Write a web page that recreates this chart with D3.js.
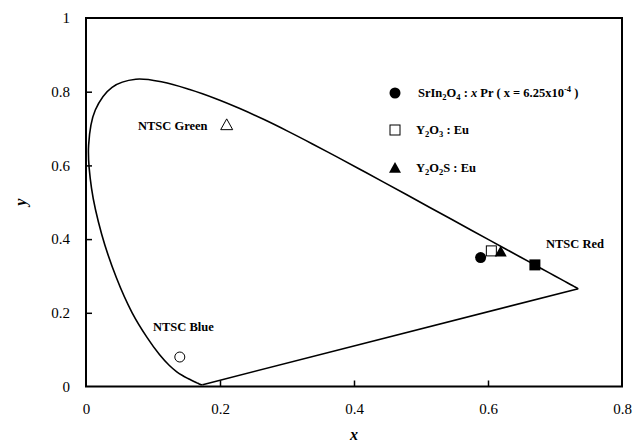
<!DOCTYPE html>
<html>
<head>
<meta charset="utf-8">
<script src="https://cdn.jsdelivr.net/npm/d3@7"></script>
<style>
  body { margin: 0; background: #fff; }
  svg text { font-family: "Liberation Serif", "Times New Roman", serif; fill: #000; }
</style>
</head>
<body>
<svg id="chart" width="637" height="447"></svg>
<script>
// CIE 1931 spectral locus (x, y)
const locusX = [0.1741,0.1740,0.1738,0.1736,0.1733,0.1730,0.1726,0.1721,0.1714,0.1703,0.1689,0.1669,0.1644,0.1611,0.1566,0.1510,0.1440,0.1355,0.1241,0.1096,0.0913,0.0687,0.0454,0.0235,0.0082,0.0039,0.0139,0.0389,0.0743,0.1142,0.1547,0.1929,0.2296,0.2658,0.3016,0.3373,0.3731,0.4087,0.4441,0.4788,0.5125,0.5448,0.5752,0.6029,0.6270,0.6482,0.6658,0.6801,0.6915,0.7006,0.7079,0.7140,0.7190,0.7230,0.7260,0.7283,0.7300,0.7311,0.7320,0.7334,0.7344,0.7347];
const locusY = [0.0050,0.0050,0.0049,0.0049,0.0048,0.0048,0.0048,0.0048,0.0051,0.0058,0.0069,0.0086,0.0109,0.0138,0.0177,0.0227,0.0297,0.0399,0.0578,0.0868,0.1327,0.2007,0.2950,0.4127,0.5384,0.6548,0.7502,0.8120,0.8338,0.8262,0.8059,0.7816,0.7543,0.7243,0.6923,0.6589,0.6245,0.5896,0.5547,0.5202,0.4866,0.4544,0.4242,0.3965,0.3725,0.3514,0.3340,0.3197,0.3083,0.2993,0.2920,0.2859,0.2809,0.2770,0.2740,0.2717,0.2700,0.2689,0.2680,0.2666,0.2656,0.2653];

const ntscNames = ["NTSC Red", "NTSC Green", "NTSC Blue"];
const ntscX = [0.67, 0.21, 0.14];
const ntscY = [0.33, 0.71, 0.08];
const ntscShapes = ["filledSquare", "openTriangle", "openCircle"];

const sampleNames = ["SrIn2O4", "Y2O3", "Y2O2S"];
const sampleX = [0.589, 0.605, 0.619];
const sampleY = [0.350, 0.368, 0.366];
const sampleShapes = ["filledCircle", "openSquare", "filledTriangle"];

const xTicks = [0, 0.2, 0.4, 0.6, 0.8];
const yTicks = [0, 0.2, 0.4, 0.6, 0.8, 1];

const margin = { left: 86, right: 15, top: 18, bottom: 60.5 };
const width = 637, height = 447;
const svg = d3.select("#chart");

const x = d3.scaleLinear().domain([0, 0.8]).range([margin.left, width - margin.right]);
const y = d3.scaleLinear().domain([0, 1]).range([height - margin.bottom, margin.top]);

// axes with inward ticks
const xAxis = svg.append("g").attr("transform", `translate(0,${y(0)})`)
  .call(d3.axisBottom(x).tickValues(xTicks).tickSize(-6).tickPadding(17).tickFormat(d3.format("")));
const yAxis = svg.append("g").attr("transform", `translate(${x(0)},0)`)
  .call(d3.axisLeft(y).tickValues(yTicks).tickSize(-6).tickPadding(16).tickFormat(d3.format("")));
[xAxis, yAxis].forEach(a => {
  a.select(".domain").remove();
  a.selectAll(".tick line").attr("stroke", "#000").attr("stroke-width", 1.5);
  a.selectAll(".tick text").style("font-size", "15px").style("font-family", "Liberation Serif");
});
xAxis.selectAll(".tick").filter(d => d === 0 || d === 0.8).select("line").remove();
yAxis.selectAll(".tick").filter(d => d === 0 || d === 1).select("line").remove();

// frame
svg.append("rect")
  .attr("x", x(0)).attr("y", y(1))
  .attr("width", x(0.8) - x(0)).attr("height", y(0) - y(1))
  .attr("fill", "none").attr("stroke", "#000").attr("stroke-width", 2);

// spectral locus + purple line
const locus = locusX.map((v, i) => [v, locusY[i]]);
const line = d3.line().x(d => x(d[0])).y(d => y(d[1])).curve(d3.curveCatmullRom);
svg.append("path").datum(locus).attr("d", line)
  .attr("fill", "none").attr("stroke", "#000").attr("stroke-width", 1.6);
svg.append("path").datum([locus[locus.length - 1], locus[0]]).attr("d", d3.line().x(d => x(d[0])).y(d => y(d[1])))
  .attr("fill", "none").attr("stroke", "#000").attr("stroke-width", 1.6);

function marker(g, shape, cx, cy) {
  const filled = shape.startsWith("filled");
  const fill = filled ? "#000" : "#fff";
  const sw = filled ? 0 : 1;
  if (shape.endsWith("Circle")) {
    g.append("circle").attr("cx", cx).attr("cy", cy).attr("r", filled ? 5.5 : 5)
      .attr("fill", fill).attr("stroke", "#000").attr("stroke-width", sw);
  } else if (shape.endsWith("Square")) {
    const s = filled ? 11 : 10;
    g.append("rect").attr("x", cx - s / 2).attr("y", cy - s / 2).attr("width", s).attr("height", s)
      .attr("fill", fill).attr("stroke", "#000").attr("stroke-width", sw);
  } else {
    const s = 6;
    g.append("path").attr("d", `M${cx},${cy - s}L${cx + s},${cy + s * 0.8}L${cx - s},${cy + s * 0.8}Z`)
      .attr("fill", fill).attr("stroke", "#000").attr("stroke-width", sw);
  }
}

const marks = svg.append("g");
sampleNames.forEach((n, i) => marker(marks, sampleShapes[i], x(sampleX[i]), y(sampleY[i])));
ntscNames.forEach((n, i) => marker(marks, ntscShapes[i], x(ntscX[i]), y(ntscY[i])));

// NTSC labels
const labelPos = [[546, 248], [138, 130], [153, 331]];
ntscNames.forEach((n, i) => {
  svg.append("text").attr("x", labelPos[i][0]).attr("y", labelPos[i][1])
    .style("font-size", "12.5px").style("font-weight", "bold").text(n);
});

// legend
const legend = svg.append("g");
const legY = [93, 130, 168];
sampleShapes.forEach((s, i) => marker(legend, s, 395, legY[i]));

const fs = "12.5px", sub = "8.5px";
const t1 = legend.append("text").attr("x", 418).attr("y", legY[0] + 4).style("font-size", fs).style("font-weight", "bold");
t1.append("tspan").text("SrIn");
t1.append("tspan").attr("dy", 3).style("font-size", sub).text("2");
t1.append("tspan").attr("dy", -3).text("O");
t1.append("tspan").attr("dy", 3).style("font-size", sub).text("4");
t1.append("tspan").attr("dy", -3).text(" : ");
t1.append("tspan").style("font-style", "italic").text("x");
t1.append("tspan").text(" Pr ( x = 6.25x10");
t1.append("tspan").attr("dy", -5).style("font-size", sub).text("-4");
t1.append("tspan").attr("dy", 5).text(" )");

const t2 = legend.append("text").attr("x", 416).attr("y", legY[1] + 4).style("font-size", fs).style("font-weight", "bold");
t2.append("tspan").text("Y");
t2.append("tspan").attr("dy", 3).style("font-size", sub).text("2");
t2.append("tspan").attr("dy", -3).text("O");
t2.append("tspan").attr("dy", 3).style("font-size", sub).text("3");
t2.append("tspan").attr("dy", -3).text(" : Eu");

const t3 = legend.append("text").attr("x", 416).attr("y", legY[2] + 4).style("font-size", fs).style("font-weight", "bold");
t3.append("tspan").text("Y");
t3.append("tspan").attr("dy", 3).style("font-size", sub).text("2");
t3.append("tspan").attr("dy", -3).text("O");
t3.append("tspan").attr("dy", 3).style("font-size", sub).text("2");
t3.append("tspan").attr("dy", -3).text("S : Eu");

// axis titles
svg.append("text").attr("x", (x(0) + x(0.8)) / 2).attr("y", 440).attr("text-anchor", "middle")
  .style("font-size", "16px").style("font-weight", "bold").style("font-style", "italic").text("x");
svg.append("text").attr("transform", `translate(26,${y(0.5)}) rotate(-90)`).attr("text-anchor", "middle")
  .style("font-size", "16px").style("font-weight", "bold").style("font-style", "italic").text("y");
</script>
</body>
</html>
